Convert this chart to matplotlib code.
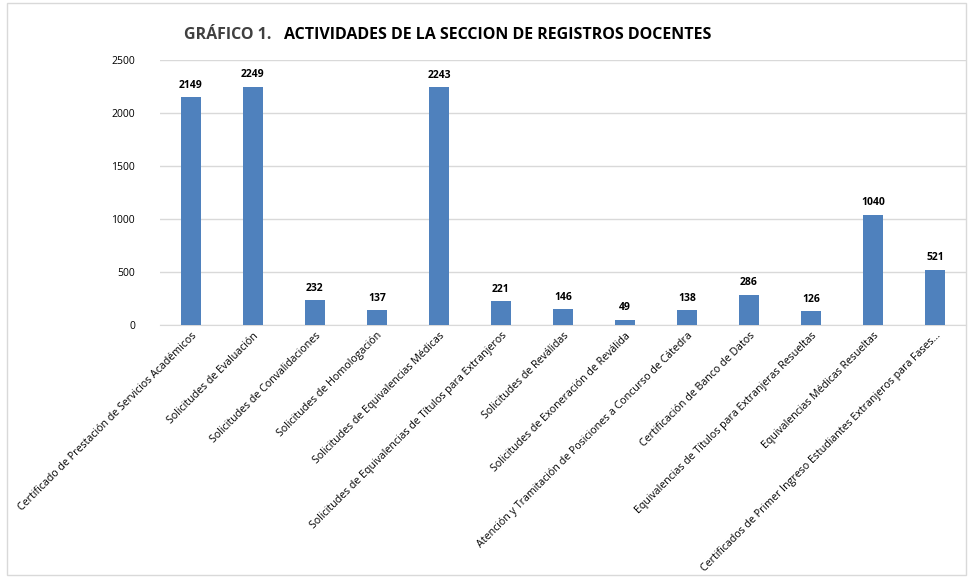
import matplotlib
matplotlib.use("Agg")
import matplotlib.pyplot as plt
import numpy as np

categories = [
    "Certificado de Prestación de Servicios Académicos",
    "Solicitudes de Evaluación",
    "Solicitudes de Convalidaciones",
    "Solicitudes de Homologación",
    "Solicitudes de Equivalencias Médicas",
    "Solicitudes de Equivalencias de Títulos para Extranjeros",
    "Solicitudes de Reválidas",
    "Solicitudes de Exoneración de Reválida",
    "Atención y Tramitación de Posiciones a Concurso de Cátedra",
    "Certificación de Banco de Datos",
    "Equivalencias de Títulos para Extranjeras Resueltas",
    "Equivalencias Médicas Resueltas",
    "Certificados de Primer Ingreso Estudiantes Extranjeros para Fases...",
]
values = [2149, 2249, 232, 137, 2243, 221, 146, 49, 138, 286, 126, 1040, 521]

plt.rcParams['font.family'] = ['Open Sans', 'DejaVu Sans']

fig = plt.figure(figsize=(9.69, 5.78), dpi=100)
ax = fig.add_axes([0.165, 0.438, 0.832, 0.458])

x = np.arange(len(categories))
ax.bar(x, values, width=0.31, color='#4f81bd', zorder=3)
for xi, v in zip(x, values):
    ax.text(xi, v + 60, str(v), ha='center', va='bottom', fontsize=7.5,
            fontweight='bold', color='black')

ax.set_xlim(-0.5, len(categories) - 0.5)
ax.set_ylim(0, 2500)
ax.set_yticks(np.arange(0, 2501, 500))
ax.yaxis.grid(True, color='#d9d9d9', linewidth=1, zorder=0)
ax.tick_params(axis='y', length=0, labelsize=7.5, pad=18)
ax.tick_params(axis='x', length=0, pad=4)
for s in ['top', 'right', 'left']:
    ax.spines[s].set_visible(False)
ax.spines['bottom'].set_color('#d9d9d9')

ax.set_xticks(x)
ax.set_xticklabels(categories, rotation=45, ha='right', rotation_mode='anchor',
                   fontsize=7.7)

fig.text(0.19, 0.94, "GRÁFICO 1.", fontsize=11.5, fontweight='bold',
         color='#404040', ha='left', va='center')
fig.text(0.293, 0.94, "ACTIVIDADES DE LA SECCION DE REGISTROS DOCENTES",
         fontsize=11.5, fontweight='bold', color='black', ha='left', va='center')

border = plt.Rectangle((0.007, 0.005), 0.99, 0.99, transform=fig.transFigure,
                       fill=False, edgecolor='#d9d9d9', linewidth=1)
fig.patches.append(border)

fig.savefig("out.png", dpi=100)
